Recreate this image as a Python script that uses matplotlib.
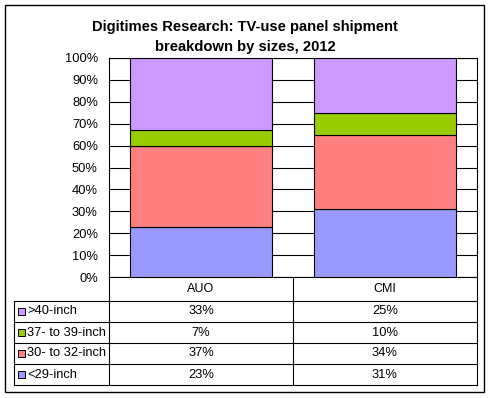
import numpy as np
import matplotlib.pyplot as plt
from matplotlib.patches import Rectangle

plt.rcParams['font.family'] = ['Liberation Sans', 'DejaVu Sans']

# Data (percent of shipments)
companies = ['AUO', 'CMI']
sizes = ['<29-inch', '30- to 32-inch', '37- to 39-inch', '>40-inch']
shares = {
    '<29-inch': [23, 31],
    '30- to 32-inch': [37, 34],
    '37- to 39-inch': [7, 10],
    '>40-inch': [33, 25],
}
colors = ['#9999FF', '#FF8080', '#99CC00', '#CC99FF']
yticks = np.arange(0, 101, 10)

W, H = 491, 398
fig = plt.figure(figsize=(W / 100, H / 100), dpi=100)


def box(x0, y0, x1, y1):
    # pixel box (top-left origin) -> figure fraction
    return [x0 / W, 1 - y1 / H, (x1 - x0) / W, (y1 - y0) / H]


# overlay in pixel coords for border and data table
ov = fig.add_axes([0, 0, 1, 1])
ov.set_xlim(0, W)
ov.set_ylim(H, 0)
ov.axis('off')
ov.add_patch(Rectangle((5, 5), 479, 387, fill=False, ec='black', lw=1))

fig.text(245 / W, 1 - 37 / H,
         'Digitimes Research: TV-use panel shipment\nbreakdown by sizes, 2012',
         ha='center', va='center', fontsize=10.6, fontweight='bold',
         linespacing=1.5)

# stacked bars
ax = fig.add_axes(box(109, 58, 477, 277))
x = np.arange(len(companies))
bottom = np.zeros(len(companies))
for name, c in zip(sizes, colors):
    vals = np.array(shares[name]) / 100
    ax.bar(x, vals, bottom=bottom, width=0.77, color=c, edgecolor='black',
           lw=0.8, zorder=3)
    bottom += vals
ax.set_xlim(-0.5, len(companies) - 0.5)
ax.set_ylim(0, 1)
ax.set_yticks(yticks / 100)
ax.set_yticklabels([f'{t}%' for t in yticks], fontsize=9.3)
ax.set_xticks([])
ax.tick_params(axis='y', length=0, pad=8)
ax.grid(axis='y', color='black', lw=0.8, zorder=0)
for s in ax.spines.values():
    s.set_linewidth(0.8)

# data table
col_edges = [109, 293, 477]
row_edges = [277, 301, 322, 343, 364, 385]
lw = 0.8
for xe in col_edges:
    ov.plot([xe, xe], [277, 385], color='black', lw=lw)
ov.plot([14, 14], [301, 385], color='black', lw=lw)
for ye in row_edges[1:]:
    ov.plot([14, 477], [ye, ye], color='black', lw=lw)

for j, comp in enumerate(companies):
    cx = (col_edges[j] + col_edges[j + 1]) / 2
    ov.text(cx, 289, comp, ha='center', va='center', fontsize=9)

for i, (name, c) in enumerate(zip(sizes[::-1], colors[::-1])):
    cy = (row_edges[i + 1] + row_edges[i + 2]) / 2
    ov.add_patch(Rectangle((18, cy - 3.5), 7, 7, fc=c, ec='black', lw=0.7))
    ov.text(27, cy, name, ha='left', va='center', fontsize=9.3)
    for j in range(len(companies)):
        cx = (col_edges[j] + col_edges[j + 1]) / 2
        ov.text(cx, cy, f'{shares[name][j]}%', ha='center', va='center',
                fontsize=9.3)

fig.savefig('out.png', dpi=100)
